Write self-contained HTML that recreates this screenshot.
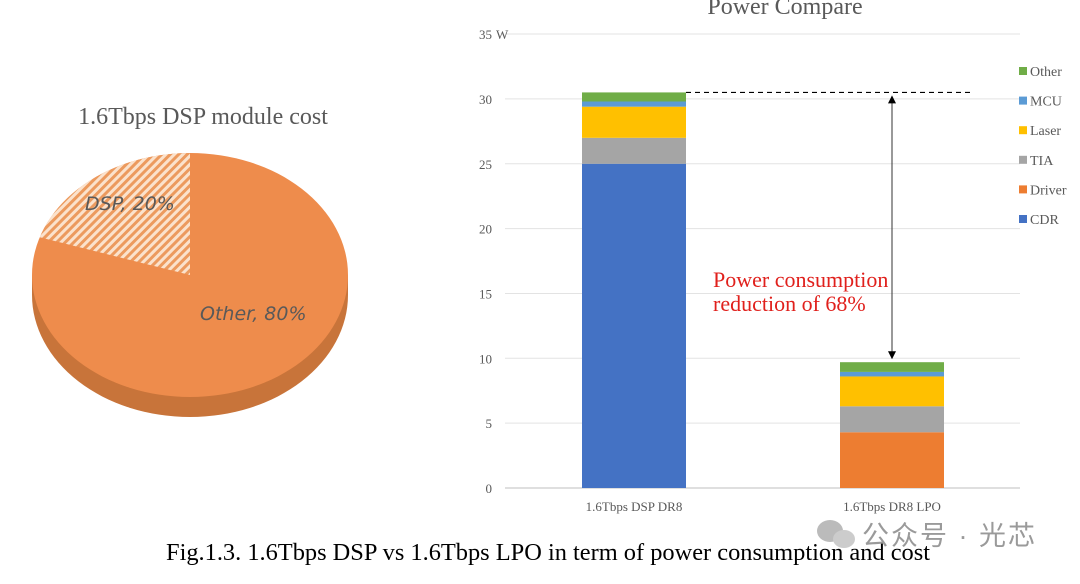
<!DOCTYPE html>
<html><head><meta charset="utf-8"><style>
body{margin:0;width:1080px;height:579px;background:#fff;overflow:hidden;font-family:"Liberation Serif",serif}
</style></head><body>
<svg width="1080" height="579">
<defs>
<pattern id="hatch" patternUnits="userSpaceOnUse" width="6" height="6" patternTransform="rotate(45)">
<rect width="6" height="6" fill="#fbe2cc"/><rect width="3" height="6" fill="#ec9a5e"/>
</pattern>
</defs>
<g id="pie"></g>
<text x="203" y="124" text-anchor="middle" font-size="24" fill="#595959">1.6Tbps DSP module cost</text>
<text x="785" y="14" text-anchor="middle" font-size="24" fill="#595959">Power Compare</text>
<g id="bars"></g>
<text x="548" y="560" text-anchor="middle" font-size="24.4" fill="#000">Fig.1.3. 1.6Tbps DSP vs 1.6Tbps LPO in term of power consumption and cost</text>
<text x="862" y="545" font-size="27" fill="#9a9a9a" letter-spacing="2" font-family="'Liberation Sans','Noto Sans CJK SC',sans-serif">公众号 · 光芯</text>
<g><ellipse cx="830" cy="531" rx="13" ry="11" fill="#bbb"/><ellipse cx="844" cy="539" rx="11" ry="9" fill="#ccc"/></g>
</svg>
<script>
const NS="http://www.w3.org/2000/svg";
function mk(t,a,p){const e=document.createElementNS(NS,t);for(const k in a)e.setAttribute(k,a[k]);p.appendChild(e);return e;}
// ---- pie ----
const pieLabels=["DSP","Other"];
const pieValues=[20,80];
const pie=document.getElementById('pie');
const cx=190,cy=275,rx=158,ry=122,depth=20;
let pieSide=mk('ellipse',{cx:cx,cy:cy+depth,rx:rx,ry:ry,fill:'#c8743a'},pie);


mk('rect',{x:cx-rx,y:cy,width:2*rx,height:depth,fill:'#c8743a'},pie);
let pieTop=mk('ellipse',{cx:cx,cy:cy,rx:rx,ry:ry,fill:'#ee8c4c'},pie);


const tot=pieValues.reduce((a,b)=>a+b,0);
const ang=pieValues[0]/tot*2*Math.PI;
const ex=cx-rx*Math.sin(ang),ey=cy-ry*Math.cos(ang);
let wedge=mk('path',{d:`M${cx},${cy} L${cx},${cy-ry} A${rx},${ry} 0 0 0 ${ex},${ey} Z`,fill:'url(#hatch)'},pie);


let l1=mk('text',{x:85,y:210,'font-size':19,'font-style':'italic',fill:'#595959','font-family':'DejaVu Sans,sans-serif'},pie);
l1.textContent=pieLabels[0]+', '+pieValues[0]+'%';


let l2=mk('text',{x:200,y:320,'font-size':19,'font-style':'italic',fill:'#595959','font-family':'DejaVu Sans,sans-serif'},pie);
l2.textContent=pieLabels[1]+', '+pieValues[1]+'%';


// ---- bars ----
const categories=["1.6Tbps DSP DR8","1.6Tbps DR8 LPO"];
const seriesNames=["CDR","Driver","TIA","Laser","MCU","Other"];
const seriesColors=["#4472c4","#ed7d31","#a5a5a5","#ffc000","#5b9bd5","#70ad47"];
const CDR=[25,0];
const Driver=[0,4.3];
const TIA=[2,2];
const Laser=[2.4,2.3];
const MCU=[0.4,0.35];
const Other=[0.7,0.75];
const yTicks=[0,5,10,15,20,25,30,35];
const series=[CDR,Driver,TIA,Laser,MCU,Other];
const g=document.getElementById('bars');
const y0=488,ppu=12.97,xL=505,xR=1020;
const Y=v=>y0-v*ppu;
const X=i=>634+i*258;
yTicks.forEach(t=>{
 let l=mk('line',{x1:xL,x2:xR,y1:Y(t),y2:Y(t),stroke:t===0?'#bfbfbf':'#e3e3e3','stroke-width':1},g);
 
 
 let tx=mk('text',{x:492,y:Y(t)+5,'text-anchor':'end','font-size':13,fill:'#595959'},g);
 tx.textContent=t;
 
 
});
let wl=mk('text',{x:496,y:Y(35)+5,'font-size':13,fill:'#595959'},g);wl.textContent='W';


const totals=[];
categories.forEach((c,i)=>{
 let acc=0;
 series.forEach((s,k)=>{
  const v=s[i];if(v<=0)return;
  let r=mk('rect',{x:X(i)-52,width:104,y:Y(acc+v),height:v*ppu,fill:seriesColors[k]},g);
  
  
  acc+=v;
 });
 totals.push(acc);
 let t=mk('text',{x:X(i),y:511,'text-anchor':'middle','font-size':13,fill:'#595959'},g);
 t.textContent=c;
 
 
});
let dl=mk('line',{x1:X(0)+52,x2:972,y1:Y(totals[0]),y2:Y(totals[0]),stroke:'#000','stroke-dasharray':'5,4','stroke-width':1.2},g);


const ax=892;
let ar=mk('line',{x1:ax,x2:ax,y1:Y(totals[0])+10,y2:Y(totals[1])-10,stroke:'#333','stroke-width':1},g);


let h1=mk('path',{d:`M${ax-4},${Y(totals[0])+11} L${ax+4},${Y(totals[0])+11} L${ax},${Y(totals[0])+3}Z`,fill:'#000'},g);


let h2=mk('path',{d:`M${ax-4},${Y(totals[1])-11} L${ax+4},${Y(totals[1])-11} L${ax},${Y(totals[1])-3}Z`,fill:'#000'},g);


[['Power consumption',287],['reduction of 68%',311]].forEach(([s,y])=>{
 let t=mk('text',{x:713,y:y,'font-size':22,fill:'#e0201c'},g);t.textContent=s;
 
 
});
seriesNames.slice().reverse().forEach((n,j)=>{
 const k=seriesNames.length-1-j, y=71+j*29.6;
 let r=mk('rect',{x:1019,y:y-4,width:8,height:8,fill:seriesColors[k]},g);
 
 
 let t=mk('text',{x:1030,y:y+5,'font-size':14,fill:'#595959'},g);t.textContent=n;
 
 
});
</script>
</body></html>
